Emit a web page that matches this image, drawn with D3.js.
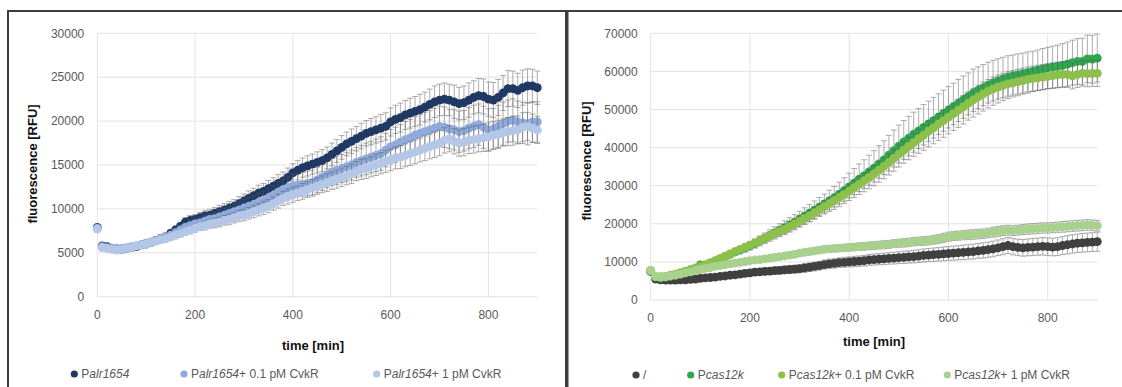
<!DOCTYPE html>
<html>
<head>
<meta charset="utf-8">
<script src="https://cdn.jsdelivr.net/npm/d3@7"></script>
<style>
  body { margin: 0; background: #fff; }
  svg { display: block; font-family: "Liberation Sans", Arial, sans-serif; }
</style>
</head>
<body>
<svg id="chart" width="1122" height="387"></svg>
<script>
// time points [min]
const time = [0,10,20,30,40,50,60,70,80,90,100,110,120,130,140,150,160,170,180,190,
  200,210,220,230,240,250,260,270,280,290,300,310,320,330,340,350,360,370,380,390,
  400,410,420,430,440,450,460,470,480,490,500,510,520,530,540,550,560,570,580,590,
  600,610,620,630,640,650,660,670,680,690,700,710,720,730,740,750,760,770,780,790,
  800,810,820,830,840,850,860,870,880,890,900];

const xTicks = [0, 200, 400, 600, 800];
const yTicksLeft = [0, 5000, 10000, 15000, 20000, 25000, 30000];
const yTicksRight = [0, 10000, 20000, 30000, 40000, 50000, 60000, 70000];

// left panel: Palr1654
const palr = [7900,5800,5700,5500,5400,5400,5500,5600,5700,5900,
  6000,6200,6400,6600,6800,7200,7600,8000,8500,8700,
  8800,9000,9200,9300,9500,9700,9900,10100,10300,10600,
  10900,11200,11500,11800,12000,12300,12600,12900,13200,13600,
  14100,14400,14700,14900,15100,15300,15500,15800,16200,16600,
  17000,17400,17700,18000,18300,18600,18800,19000,19200,19400,
  19900,20200,20400,20700,20900,21100,21300,21600,21900,22200,
  22400,22500,22400,22200,22000,22100,22400,22700,22900,22800,
  22500,22400,22700,23200,23700,23700,23500,23800,24000,24000,
  23800];
const palrErr = [300,300,250,250,250,300,300,300,300,300,
  350,350,400,400,400,450,450,500,500,550,
  550,600,600,650,650,700,700,750,750,800,
  800,850,850,900,900,950,950,1000,1000,1050,
  1050,1100,1100,1150,1150,1200,1250,1250,1300,1300,
  1350,1350,1400,1400,1450,1450,1500,1500,1550,1550,
  1600,1600,1650,1650,1700,1700,1750,1700,1750,1800,
  1800,1850,1800,1900,1850,1900,1950,1900,1950,2000,
  1950,2000,2050,2000,2050,2000,1950,2000,1950,1900,
  1900];

const palr01 = [7800,5700,5600,5500,5500,5500,5600,5700,5800,5900,
  6100,6200,6400,6600,6800,7000,7300,7600,7900,8100,
  8300,8400,8600,8800,8900,9100,9300,9500,9700,9900,
  10100,10300,10500,10700,10900,11200,11500,11900,12200,12400,
  12600,12700,12800,12900,13000,13300,13600,13900,14200,14400,
  14600,14800,15000,15300,15500,15700,15900,16100,16300,16700,
  17100,17300,17600,17900,18100,18400,18600,18800,19000,19200,
  19400,19300,19100,19000,18800,18900,19200,19400,19600,19300,
  19000,19100,19400,19700,20000,20100,19900,19800,19700,19900,
  19900];
const palr01Err = [300,300,250,250,250,300,300,300,300,350,
  350,400,400,450,450,500,500,550,550,600,
  650,650,700,700,750,800,800,850,900,900,
  950,1000,1000,1050,1100,1100,1150,1200,1200,1250,
  1300,1300,1350,1400,1400,1450,1500,1500,1550,1600,
  1600,1650,1700,1700,1750,1800,1800,1850,1900,1900,
  1950,2000,2000,2050,2100,2100,2150,2200,2200,2250,
  2300,2300,2250,2300,2350,2300,2350,2400,2350,2400,
  2400,2350,2400,2450,2400,2450,2400,2350,2400,2350,
  2300];

const palr1 = [7700,5600,5500,5400,5300,5400,5500,5600,5800,5900,
  6000,6200,6300,6500,6600,6800,7000,7200,7400,7600,
  7800,8000,8100,8300,8400,8500,8700,8800,9000,9200,
  9300,9500,9700,9900,10100,10300,10600,10900,11200,11400,
  11600,11800,12000,12200,12400,12600,12800,13000,13200,13400,
  13600,13800,14000,14300,14500,14600,14800,15000,15200,15400,
  15600,15800,15900,16100,16300,16500,16700,16900,17100,17300,
  17500,17800,18000,17700,17500,17600,17800,17900,18000,18100,
  18200,18400,18500,18700,18800,18900,19000,19300,19400,19200,
  19000];
const palr1Err = [250,250,200,200,200,250,250,250,250,250,
  300,300,300,350,350,350,400,400,400,450,
  450,450,500,500,550,550,550,600,600,650,
  650,650,700,700,750,750,750,800,800,850,
  850,850,900,900,950,950,950,1000,1000,1050,
  1050,1050,1100,1100,1150,1150,1150,1200,1200,1250,
  1250,1250,1300,1300,1350,1350,1350,1400,1400,1450,
  1450,1450,1500,1450,1500,1550,1500,1550,1500,1550,
  1600,1550,1600,1550,1600,1650,1600,1650,1600,1600,
  1550];

// right panel: Pcas12k
const blank = [7500,5500,5300,5200,5200,5200,5300,5300,5400,5500,
  5700,5800,5900,6000,6200,6300,6500,6600,6800,7000,
  7100,7300,7400,7500,7600,7700,7800,7900,8000,8100,
  8200,8400,8600,8800,9000,9300,9500,9600,9800,9900,
  10000,10100,10200,10300,10500,10600,10700,10800,10900,11000,
  11100,11200,11300,11400,11500,11700,11800,11900,12000,12100,
  12200,12300,12400,12500,12600,12700,12900,13000,13200,13400,
  13700,14000,14300,14000,13800,13700,13800,13900,14000,14100,
  14000,13900,14000,14300,14500,14700,14900,15000,15100,15200,
  15300];
const blankErr = [400,400,400,450,450,450,500,500,500,550,
  550,600,600,650,650,700,700,750,750,800,
  800,850,850,900,900,950,950,1000,1000,1050,
  1050,1100,1100,1150,1150,1200,1200,1250,1250,1300,
  1300,1350,1350,1400,1400,1450,1450,1500,1500,1550,
  1550,1600,1600,1650,1650,1700,1700,1750,1750,1800,
  1800,1850,1850,1900,1900,1950,1950,2000,2000,2050,
  2050,2100,2100,2150,2150,2200,2200,2250,2250,2300,
  2300,2300,2350,2350,2400,2400,2400,2450,2450,2450,
  2500];

const pcas = [7600,6000,5800,6000,6300,6600,7000,7400,7800,8200,
  9200,8900,9500,10200,10800,11400,12000,12600,13100,13600,
  14200,14800,15500,16200,16900,17600,18300,19000,19700,20400,
  21200,22000,22800,23600,24400,25200,26000,26800,27700,28700,
  29700,30700,31700,32600,33600,34600,35700,36800,38000,39200,
  40400,41500,42500,43500,44400,45300,46200,47100,48000,48900,
  49800,50700,51600,52500,53400,54300,55000,55700,56400,57000,
  57500,58000,58500,58800,59100,59400,59700,60000,60300,60600,
  60900,61100,61300,61600,61900,62300,62600,62600,63300,63200,
  63500];
const pcasErr = [300,300,300,350,350,400,400,450,500,500,
  900,600,650,700,750,800,850,900,950,1000,
  1100,1200,1300,1400,1500,1600,1700,1800,1900,2000,
  2100,2200,2300,2400,2500,2600,2800,3000,3200,3400,
  3600,3800,4000,4200,4400,4600,4800,5000,5200,5400,
  5500,5600,5700,5800,5900,6000,6000,6100,6100,6200,
  6200,6200,6300,6300,6200,6300,6200,6100,6000,5900,
  5800,5700,5600,5500,5500,5400,5400,5300,5300,5400,
  5400,5500,5600,5700,5800,5900,6000,6100,6200,6300,
  6300];

const pcas01 = [7800,6200,6100,6200,6500,6800,7200,7600,8000,8400,
  8800,9300,9800,10300,10900,11500,12100,12700,13300,13900,
  14400,15000,15600,16200,16800,17400,18000,18600,19300,20000,
  20700,21400,22100,22900,23700,24500,25300,26100,26900,27700,
  28600,29500,30400,31300,32200,33100,34100,35100,36100,37200,
  38300,39300,40300,41300,42300,43300,44300,45200,46200,47100,
  48000,48900,49800,50700,51600,52500,53300,54100,54800,55400,
  55900,56300,56700,57000,57300,57600,57900,58100,58300,58500,
  58700,58900,59100,59200,59200,58800,59200,59500,59400,59500,
  59500];
const pcas01Err = [300,300,300,300,350,350,400,400,450,450,
  500,500,550,600,600,650,700,700,750,800,
  850,900,950,1000,1050,1100,1150,1200,1250,1300,
  1350,1400,1450,1500,1550,1600,1650,1700,1750,1800,
  1850,1900,1950,2000,2050,2100,2150,2200,2250,2300,
  2350,2400,2450,2500,2550,2600,2650,2700,2750,2800,
  2850,2900,2950,3000,3000,3050,3050,3100,3100,3150,
  3150,3200,3200,3200,3250,3250,3250,3300,3300,3300,
  3300,3350,3350,3350,3400,3400,3400,3400,3450,3450,
  3450];

const pcas1 = [7800,6200,6000,6100,6300,6500,6800,7100,7400,7700,
  8000,8300,8500,8800,9000,9300,9500,9700,9900,10100,
  10300,10500,10600,10800,11000,11200,11400,11600,11800,12000,
  12300,12500,12700,12900,13100,13300,13400,13500,13600,13700,
  13800,13900,14000,14100,14200,14300,14400,14500,14600,14800,
  14900,15000,15100,15300,15400,15500,15600,15800,16000,16300,
  16600,16800,16900,17000,17100,17200,17300,17400,17600,17800,
  18000,18200,18300,18200,18300,18500,18600,18700,18800,18900,
  18900,19000,19100,19200,19300,19400,19500,19600,19700,19600,
  19500];
const pcas1Err = [300,300,300,300,350,350,350,400,400,400,
  450,450,450,500,500,500,550,550,550,600,
  600,600,650,650,650,700,700,700,750,750,
  750,800,800,800,850,850,850,900,900,900,
  950,950,950,1000,1000,1000,1000,1050,1050,1050,
  1050,1100,1100,1100,1100,1150,1150,1150,1150,1200,
  1200,1200,1200,1200,1250,1250,1250,1250,1250,1300,
  1300,1300,1300,1300,1300,1300,1350,1350,1350,1350,
  1350,1350,1350,1400,1400,1400,1400,1400,1400,1400,
  1400];

const svg = d3.select('#chart');
const tickColor = '#595959';
const gridColor = '#e3e3e3';
const errColor = '#5a5a5a';

// panel frames
svg.append('rect').attr('x', 8).attr('y', 11).attr('width', 558).attr('height', 400)
  .attr('fill', 'none').attr('stroke', '#3d3d3d').attr('stroke-width', 2);
svg.append('rect').attr('x', 567.5).attr('y', 11).attr('width', 600).attr('height', 400)
  .attr('fill', 'none').attr('stroke', '#3d3d3d').attr('stroke-width', 2);

function drawPanel(p) {
  const x = d3.scaleLinear().domain([0, 900]).range([p.left, p.right]);
  const y = d3.scaleLinear().domain([0, p.yMax]).range([p.bottom, p.top]);
  const g = svg.append('g');

  // grid
  g.append('g').selectAll('line').data(p.yTicks).join('line')
    .attr('x1', p.left).attr('x2', p.right)
    .attr('y1', d => y(d)).attr('y2', d => y(d))
    .attr('stroke', gridColor).attr('stroke-width', 1);
  g.append('g').selectAll('line').data(xTicks).join('line')
    .attr('x1', d => x(d)).attr('x2', d => x(d))
    .attr('y1', p.top).attr('y2', p.bottom)
    .attr('stroke', gridColor).attr('stroke-width', 1);

  // tick labels
  g.append('g').selectAll('text').data(p.yTicks).join('text')
    .attr('x', p.left - 13).attr('y', d => y(d)).attr('dy', '0.35em')
    .attr('text-anchor', 'end').attr('font-size', 12).attr('fill', tickColor)
    .text(d => d);
  g.append('g').selectAll('text').data(xTicks).join('text')
    .attr('x', d => x(d)).attr('y', p.bottom + 18).attr('dy', '0.35em')
    .attr('text-anchor', 'middle').attr('font-size', 12).attr('fill', tickColor)
    .text(d => d);

  // axis titles
  g.append('text').attr('x', p.xTitleX).attr('y', p.xTitleY).attr('dy', '0.35em')
    .attr('text-anchor', 'middle').attr('font-size', 13).attr('font-weight', 'bold')
    .attr('fill', '#111').text('time [min]');
  g.append('text')
    .attr('transform', `translate(${p.yTitleX},${p.yTitleY}) rotate(-90)`)
    .attr('dy', '0.35em').attr('text-anchor', 'middle').attr('font-size', 13)
    .attr('font-weight', 'bold').attr('fill', '#111').text('fluorescence [RFU]');

  // each series: error bars first, then its markers on top
  p.series.forEach(s => {
    const eb = g.append('g').attr('stroke', errColor).attr('stroke-width', 0.7)
      .attr('opacity', 0.7);
    time.forEach((t, i) => {
      const cx = x(t), hi = y(s.values[i] + s.err[i]), lo = y(s.values[i] - s.err[i]);
      eb.append('line').attr('x1', cx).attr('x2', cx).attr('y1', hi).attr('y2', lo);
      eb.append('line').attr('x1', cx - 3).attr('x2', cx + 3).attr('y1', hi).attr('y2', hi);
      eb.append('line').attr('x1', cx - 3).attr('x2', cx + 3).attr('y1', lo).attr('y2', lo);
    });
    g.append('g').selectAll('circle').data(time).join('circle')
      .attr('cx', d => x(d)).attr('cy', (d, i) => y(s.values[i]))
      .attr('r', 4.4).attr('fill', s.color);
  });

  // legend
  p.series.forEach((s, k) => {
    const lx = p.legendX[k];
    g.append('circle').attr('cx', lx).attr('cy', p.legendY).attr('r', 3.6).attr('fill', s.color);
    const t = g.append('text').attr('x', lx + 7).attr('y', p.legendY).attr('dy', '0.35em')
      .attr('font-size', 12).attr('fill', tickColor);
    s.label.forEach(part => {
      t.append('tspan').attr('font-style', part[1] ? 'italic' : 'normal').text(part[0]);
    });
  });
}

drawPanel({
  left: 97.3, right: 537.3, top: 33.3, bottom: 296.7, yMax: 30000, yTicks: yTicksLeft,
  xTitleX: 313, xTitleY: 345.5, yTitleX: 32, yTitleY: 164,
  legendY: 374, legendX: [74.3, 184, 376.7],
  series: [
    { values: palr, err: palrErr, color: '#1F3864', label: [['P', 0], ['alr1654', 1]] },
    { values: palr01, err: palr01Err, color: '#8FAADC', label: [['P', 0], ['alr1654', 1], ['+ 0.1 pM CvkR', 0]] },
    { values: palr1, err: palr1Err, color: '#B4C7E7', label: [['P', 0], ['alr1654', 1], ['+ 1 pM CvkR', 0]] }
  ]
});

drawPanel({
  left: 650.7, right: 1097.3, top: 33.3, bottom: 300, yMax: 70000, yTicks: yTicksRight,
  xTitleX: 874, xTitleY: 341.5, yTitleX: 586.7, yTitleY: 161,
  legendY: 375, legendX: [636, 690.7, 781.7, 947.3],
  series: [
    { values: blank, err: blankErr, color: '#404040', label: [['/', 0]] },
    { values: pcas, err: pcasErr, color: '#2FA84F', label: [['P', 0], ['cas12k', 1]] },
    { values: pcas01, err: pcas01Err, color: '#8CC04A', label: [['P', 0], ['cas12k', 1], ['+ 0.1 pM CvkR', 0]] },
    { values: pcas1, err: pcas1Err, color: '#A9D18E', label: [['P', 0], ['cas12k', 1], ['+ 1 pM CvkR', 0]] }
  ]
});
</script>
</body>
</html>
